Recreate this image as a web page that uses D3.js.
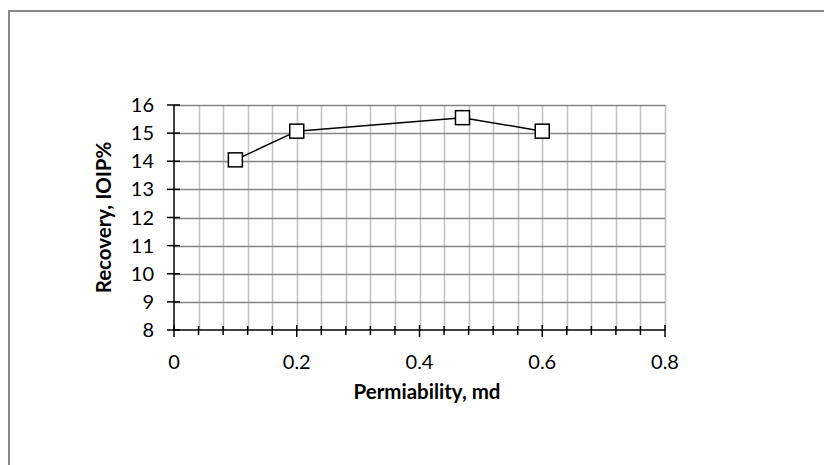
<!DOCTYPE html>
<html>
<head>
<meta charset="utf-8">
<script src="https://cdn.jsdelivr.net/npm/d3@7"></script>
<style>
  body { margin: 0; background: #fff; }
  text { font-family: Lato, "Open Sans", sans-serif; fill: #000; }
  .title { font-weight: bold; font-size: 20.5px; }
  .tick-label { font-size: 20px; }
</style>
</head>
<body>
<div id="vis"></div>
<script>
// data
var permeability = [0.1, 0.2, 0.47, 0.6];
var recovery = [14.05, 15.07, 15.55, 15.07];
var xTicks = [0, 0.2, 0.4, 0.6, 0.8];
var yTicks = [8, 9, 10, 11, 12, 13, 14, 15, 16];

var width = 824,
    height = 465;

var margin = { left: 174, top: 105, right: 159, bottom: 135 };
var drawWidth = width - margin.left - margin.right,
    drawHeight = height - margin.top - margin.bottom;

var svg = d3.select('#vis')
            .append('svg')
            .attr('width', width)
            .attr('height', height);

// outer chart border (runs off the right and bottom edges)
svg.append('rect')
   .attr('x', 9)
   .attr('y', 11)
   .attr('width', 900)
   .attr('height', 900)
   .attr('fill', 'none')
   .attr('stroke', '#888')
   .attr('stroke-width', 2);

var g = svg.append('g')
           .attr('transform', `translate(${margin.left}, ${margin.top})`);

var xScale = d3.scaleLinear().domain([0, 0.8]).range([0, drawWidth]);
var yScale = d3.scaleLinear().domain([8, 16]).range([drawHeight, 0]);

var minorX = d3.range(0, 21).map((i) => i * 0.04);

// vertical gridlines (light)
g.selectAll('.vgrid')
 .data(minorX.slice(1))
 .enter()
 .append('line')
 .attr('class', 'vgrid')
 .attr('x1', (d) => Math.round(xScale(d)) + 0.5)
 .attr('x2', (d) => Math.round(xScale(d)) + 0.5)
 .attr('y1', 0)
 .attr('y2', drawHeight)
 .style('stroke', '#c2c2c2')
 .style('stroke-width', 1.6);

// horizontal gridlines (darker)
g.selectAll('.hgrid')
 .data(yTicks.slice(1))
 .enter()
 .append('line')
 .attr('class', 'hgrid')
 .attr('x1', 0)
 .attr('x2', drawWidth)
 .attr('y1', (d) => Math.round(yScale(d)) + 0.5)
 .attr('y2', (d) => Math.round(yScale(d)) + 0.5)
 .style('stroke', '#858585')
 .style('stroke-width', 1.4);

// x axis with crossing ticks
var xAxisG = g.append('g').attr('transform', `translate(0, ${drawHeight})`);
xAxisG.append('line')
      .attr('x1', 0).attr('x2', drawWidth)
      .attr('y1', 0).attr('y2', 0)
      .style('stroke', '#000').style('stroke-width', 1.5);
xAxisG.selectAll('.xminor')
      .data(minorX)
      .enter()
      .append('line')
      .attr('x1', (d) => xScale(d))
      .attr('x2', (d) => xScale(d))
      .attr('y1', (d, i) => i % 5 == 0 ? -5 : -4)
      .attr('y2', (d, i) => i % 5 == 0 ? 7 : 5)
      .style('stroke', '#000')
      .style('stroke-width', 1.5);
xAxisG.selectAll('.xlabel')
      .data(xTicks)
      .enter()
      .append('text')
      .attr('class', 'tick-label')
      .attr('x', (d) => xScale(d))
      .attr('y', 39)
      .style('text-anchor', 'middle')
      .text((d) => d);

// y axis with crossing ticks
var yAxisG = g.append('g');
yAxisG.append('line')
      .attr('x1', 0).attr('x2', 0)
      .attr('y1', 0).attr('y2', drawHeight)
      .style('stroke', '#000').style('stroke-width', 1.5);
yAxisG.selectAll('.ytick')
      .data(yTicks)
      .enter()
      .append('line')
      .attr('x1', -7)
      .attr('x2', 6)
      .attr('y1', (d) => yScale(d))
      .attr('y2', (d) => yScale(d))
      .style('stroke', '#000')
      .style('stroke-width', 1.5);
yAxisG.selectAll('.ylabel')
      .data(yTicks)
      .enter()
      .append('text')
      .attr('class', 'tick-label')
      .attr('x', -20)
      .attr('y', (d) => yScale(d))
      .attr('dy', '0.35em')
      .style('text-anchor', 'end')
      .text((d) => d);

// axis titles
svg.append('text')
   .attr('class', 'title')
   .attr('x', 427)
   .attr('y', 399)
   .style('text-anchor', 'middle')
   .text('Permiability, md');

svg.append('text')
   .attr('class', 'title')
   .attr('transform', `translate(111, ${margin.top + drawHeight / 2}) rotate(-90)`)
   .style('text-anchor', 'middle')
   .text('Recovery, IOIP%');

// series
var data = permeability.map((p, i) => ({ x: p, y: recovery[i] }));

var line = d3.line()
             .x((d) => xScale(d.x))
             .y((d) => yScale(d.y));

g.append('path')
 .datum(data)
 .attr('d', line)
 .attr('fill', 'none')
 .style('stroke', '#000')
 .style('stroke-width', 1.5);

g.selectAll('.marker')
 .data(data)
 .enter()
 .append('rect')
 .attr('class', 'marker')
 .attr('x', (d) => xScale(d.x) - 7)
 .attr('y', (d) => yScale(d.y) - 7)
 .attr('width', 14)
 .attr('height', 14)
 .attr('fill', '#fff')
 .style('stroke', '#000')
 .style('stroke-width', 1.5);
</script>
</body>
</html>
